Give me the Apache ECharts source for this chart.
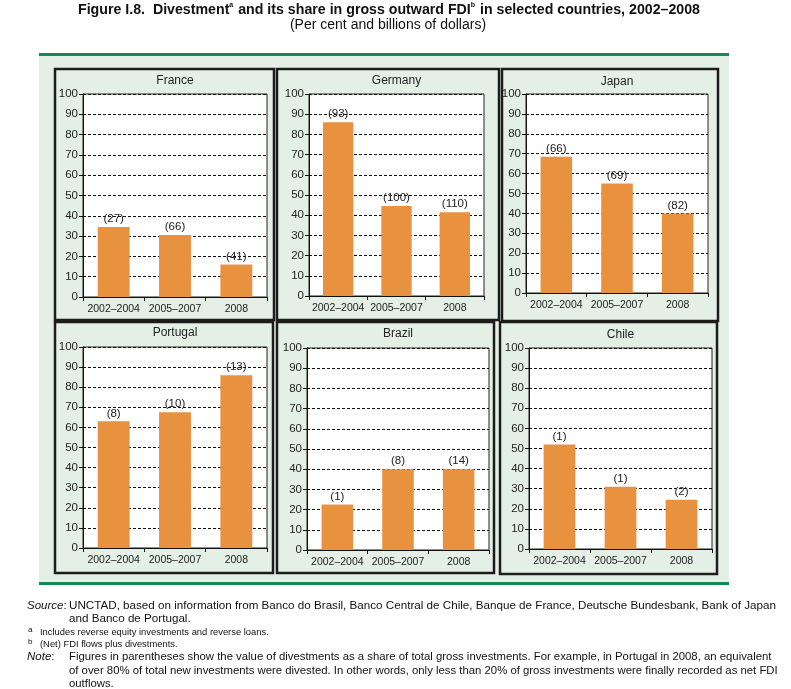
<!DOCTYPE html>
<html>
<head>
<meta charset="utf-8">
<script src="https://cdn.jsdelivr.net/npm/echarts@6/dist/echarts.min.js"></script>
<style>
html,body{margin:0;padding:0;background:#fff;}
#chart{width:791px;height:689px;}
</style>
</head>
<body>
<div id="chart"></div>
<script>
// ---------- DATA ----------
const categories = ['2002–2004', '2005–2007', '2008'];
const countries = ['France', 'Germany', 'Japan', 'Portugal', 'Brazil', 'Chile'];
const yTicks = { min: 0, max: 100, interval: 10 };
// Share of divestment in gross outward FDI (per cent)
const franceShare   = [34.5, 30.5, 16];
const germanyShare  = [86, 44.5, 41.5];
const japanShare    = [68.5, 55, 40];
const portugalShare = [63, 67.5, 86];
const brazilShare   = [22.5, 40, 40];
const chileShare    = [52, 31, 24.5];
// Value of divestments (billions of dollars), shown in parentheses
const franceValue   = ['(27)', '(66)', '(41)'];
const germanyValue  = ['(93)', '(100)', '(110)'];
const japanValue    = ['(66)', '(69)', '(82)'];
const portugalValue = ['(8)', '(10)', '(13)'];
const brazilValue   = ['(1)', '(8)', '(14)'];
const chileValue    = ['(1)', '(1)', '(2)'];

const shares = [franceShare, germanyShare, japanShare, portugalShare, brazilShare, chileShare];
const values = [franceValue, germanyValue, japanValue, portugalValue, brazilValue, chileValue];

// ---------- LAYOUT ----------
const FONT = '"Liberation Sans", Arial, sans-serif';
const grids = [
  { left: 83,  top: 94,  width: 184, height: 203 },
  { left: 309, top: 94,  width: 175, height: 202 },
  { left: 526, top: 94,  width: 182, height: 199 },
  { left: 83,  top: 347, width: 184, height: 201 },
  { left: 307, top: 348, width: 182, height: 202 },
  { left: 529, top: 348, width: 183, height: 201 }
];
const boxes = [
  [55, 69, 219, 251], [277, 69, 222, 251], [502, 69, 216, 252],
  [55, 322, 218, 251], [277, 322, 217, 251], [500, 322, 217, 252]
];
const titleY = [81, 81, 82, 333, 334, 335];

const graphics = [];
graphics.push({ type: 'rect', shape: { x: 39, y: 55, width: 690, height: 528 }, style: { fill: '#e4f0e6' }, z: -10 });
graphics.push({ type: 'line', shape: { x1: 39, y1: 54.5, x2: 729, y2: 54.5 }, style: { stroke: '#17875a', lineWidth: 3 }, z: -9 });
graphics.push({ type: 'line', shape: { x1: 39, y1: 583.5, x2: 729, y2: 583.5 }, style: { stroke: '#17875a', lineWidth: 3 }, z: -9 });
boxes.forEach(b => {
  graphics.push({ type: 'rect', shape: { x: b[0], y: b[1], width: b[2], height: b[3] }, style: { fill: 'none', stroke: '#1c1c1c', lineWidth: 2.5 }, z: -5 });
});
countries.forEach((c, i) => {
  graphics.push({ type: 'text', x: grids[i].left + grids[i].width / 2, y: titleY[i],
    style: { text: c, font: '12px ' + FONT, fill: '#222', align: 'center', verticalAlign: 'middle' } });
});

// Title
graphics.push({ type: 'text', x: 389, y: 10,
  style: {
    text: '{b|Figure I.8.  Divestment}{s|a}{b| and its share in gross outward FDI}{s|b}{b| in selected countries, 2002–2008}',
    align: 'center', verticalAlign: 'middle',
    rich: {
      b: { fontFamily: FONT, fontWeight: 'bold', fontSize: 14.2, fill: '#111', lineHeight: 17 },
      s: { fontFamily: FONT, fontWeight: 'bold', fontSize: 7, fill: '#111', lineHeight: 17, verticalAlign: 'top', padding: [0, 1, 7, 0] }
    }
  } });
graphics.push({ type: 'text', x: 388, y: 25,
  style: { text: '(Per cent and billions of dollars)', font: '14px ' + FONT, fill: '#111', align: 'center', verticalAlign: 'middle' } });

// Footnotes
const foot = (x, y, text, size) => graphics.push({ type: 'text', x: x, y: y,
  style: { text: text, font: size + 'px ' + FONT, fill: '#111', align: 'left', verticalAlign: 'middle' } });
const lead = (x, y, word) => graphics.push({ type: 'text', x: x, y: y,
  style: { text: '{i|' + word + '}{n|:}', align: 'left', verticalAlign: 'middle',
    rich: { i: { fontFamily: FONT, fontStyle: 'italic', fontSize: 11.5, fill: '#111' },
            n: { fontFamily: FONT, fontSize: 11.5, fill: '#111' } } } });
lead(27, 606, 'Source');
foot(69, 606, 'UNCTAD, based on information from Banco do Brasil, Banco Central de Chile, Banque de France, Deutsche Bundesbank, Bank of Japan', 11.65);
foot(69, 619, 'and Banco de Portugal.', 11.65);
foot(28, 630, 'a', 8);
foot(40, 632, 'Includes reverse equity investments and reverse loans.', 9.4);
foot(28, 642, 'b', 8);
foot(40, 644, '(Net) FDI flows plus divestments.', 9.4);
lead(27, 657, 'Note');
foot(69, 657, 'Figures in parentheses show the value of divestments as a share of total gross investments. For example, in Portugal in 2008, an equivalent', 11.35);
foot(69, 671, 'of over 80% of total new investments were divested. In other words, only less than 20% of gross investments were finally recorded as net FDI', 11.35);
foot(69, 684, 'outflows.', 11.35);

const option = {
  backgroundColor: '#ffffff',
  animation: false,
  grid: grids.map(g => Object.assign({ show: true, backgroundColor: '#ffffff', borderColor: '#222', borderWidth: 1, containLabel: false }, g)),
  xAxis: grids.map((g, i) => ({
    type: 'category', gridIndex: i, data: categories, boundaryGap: true,
    axisLine: { show: true, lineStyle: { color: '#111', width: 1 } },
    axisTick: { show: true, length: 4, alignWithLabel: false, lineStyle: { color: '#111' } },
    axisLabel: { fontFamily: FONT, fontSize: 10.5, color: '#222', margin: 7, interval: 0 },
    splitLine: { show: false }
  })),
  yAxis: grids.map((g, i) => ({
    type: 'value', gridIndex: i, min: yTicks.min, max: yTicks.max, interval: yTicks.interval,
    axisLine: { show: true, lineStyle: { color: '#111', width: 1 } },
    axisTick: { show: true, length: 4, lineStyle: { color: '#111' } },
    axisLabel: { fontFamily: FONT, fontSize: 11.5, color: '#222', margin: 5 },
    splitLine: { show: true, lineStyle: { color: '#111', type: [3, 2], width: 1 } }
  })),
  series: shares.map((s, i) => ({
    type: 'bar', xAxisIndex: i, yAxisIndex: i, data: s, barWidth: '52%',
    itemStyle: { color: '#e8913f' },
    label: { show: true, position: 'top', distance: 2, fontFamily: FONT, fontSize: 11.5, color: '#222',
      formatter: p => values[i][p.dataIndex] }
  })),
  graphic: graphics
};

const chart = echarts.init(document.getElementById('chart'), null, { renderer: 'canvas' });
chart.setOption(option);
</script>
</body>
</html>
